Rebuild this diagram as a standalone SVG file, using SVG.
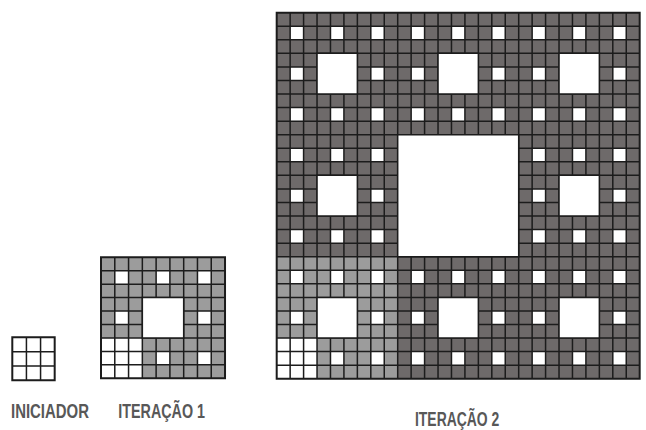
<svg xmlns="http://www.w3.org/2000/svg" xmlns:xlink="http://www.w3.org/1999/xlink" width="646" height="430" viewBox="0 0 646 430">
<style>
.ln{fill:none;stroke:#1c1c1c;stroke-width:1.5;vector-effect:non-scaling-stroke}
.bd{fill:none;stroke:#1c1c1c;stroke-width:2;vector-effect:non-scaling-stroke}
.hole{fill:#fff;stroke:#1c1c1c;stroke-width:1.5;vector-effect:non-scaling-stroke}
.wh{fill:#fff}
.lt{fill:#9c9c9c}
.dk{fill:#6e6a6a}
.lbl{font-family:"Liberation Sans",Arial,sans-serif;font-weight:bold;font-size:21px;fill:#585858}
</style>
<defs>
<path id="s9" class="wh" d="M1 1h1v1h-1zM4 1h1v1h-1zM7 1h1v1h-1zM1 4h1v1h-1zM7 4h1v1h-1zM1 7h1v1h-1zM4 7h1v1h-1zM7 7h1v1h-1z"/>
<path id="g3" class="ln" d="M1 0V3M2 0V3M0 1H3M0 2H3"/>
<path id="g9" class="ln" d="M1 0V9M2 0V9M3 0V9M4 0V9M5 0V9M6 0V9M7 0V9M8 0V9M0 1H9M0 2H9M0 3H9M0 4H9M0 5H9M0 6H9M0 7H9M0 8H9"/>
<path id="g27" class="ln" d="M1 0V27M2 0V27M3 0V27M4 0V27M5 0V27M6 0V27M7 0V27M8 0V27M9 0V27M10 0V27M11 0V27M12 0V27M13 0V27M14 0V27M15 0V27M16 0V27M17 0V27M18 0V27M19 0V27M20 0V27M21 0V27M22 0V27M23 0V27M24 0V27M25 0V27M26 0V27M0 1H27M0 2H27M0 3H27M0 4H27M0 5H27M0 6H27M0 7H27M0 8H27M0 9H27M0 10H27M0 11H27M0 12H27M0 13H27M0 14H27M0 15H27M0 16H27M0 17H27M0 18H27M0 19H27M0 20H27M0 21H27M0 22H27M0 23H27M0 24H27M0 25H27M0 26H27"/>
</defs>

<g id="iniciador" transform="translate(12.3 337.3) scale(14.13 14.33)">
<rect class="wh" x="0" y="0" width="3" height="3"/>
<use href="#g3"/>
<rect class="bd" x="0" y="0" width="3" height="3"/>
</g>

<g id="iteracao1" transform="translate(101 257.3) scale(13.78 13.44)">
<rect class="lt" x="0" y="0" width="9" height="9"/>
<rect class="wh" x="0" y="6" width="3" height="3"/>
<use href="#s9"/>
<use href="#g9"/>
<rect class="hole" x="3" y="3" width="3" height="3"/>
<rect class="bd" x="0" y="0" width="9" height="9"/>
</g>

<g id="iteracao2" transform="translate(276.7 12.7) scale(13.444 13.556)">
<rect class="dk" x="0" y="0" width="27" height="27"/>
<rect class="lt" x="0" y="18" width="9" height="9"/>
<rect class="wh" x="0" y="24" width="3" height="3"/>
<use href="#s9" x="0" y="0"/>
<use href="#s9" x="9" y="0"/>
<use href="#s9" x="18" y="0"/>
<use href="#s9" x="0" y="9"/>
<use href="#s9" x="18" y="9"/>
<use href="#s9" x="0" y="18"/>
<use href="#s9" x="9" y="18"/>
<use href="#s9" x="18" y="18"/>
<use href="#g27"/>
<rect class="hole" x="3" y="3" width="3" height="3"/>
<rect class="hole" x="12" y="3" width="3" height="3"/>
<rect class="hole" x="21" y="3" width="3" height="3"/>
<rect class="hole" x="3" y="12" width="3" height="3"/>
<rect class="hole" x="21" y="12" width="3" height="3"/>
<rect class="hole" x="3" y="21" width="3" height="3"/>
<rect class="hole" x="12" y="21" width="3" height="3"/>
<rect class="hole" x="21" y="21" width="3" height="3"/>
<rect class="hole" x="9" y="9" width="9" height="9"/>
<rect class="bd" x="0" y="0" width="27" height="27"/>
</g>

<g id="labels">
<text class="lbl" x="11" y="417.5" textLength="78" lengthAdjust="spacingAndGlyphs">INICIADOR</text>
<text class="lbl" x="118.3" y="417.5" textLength="86.7" lengthAdjust="spacingAndGlyphs">ITERAÇÃO 1</text>
<text class="lbl" x="415" y="425.5" textLength="84.3" lengthAdjust="spacingAndGlyphs">ITERAÇÃO 2</text>
</g>
</svg>
